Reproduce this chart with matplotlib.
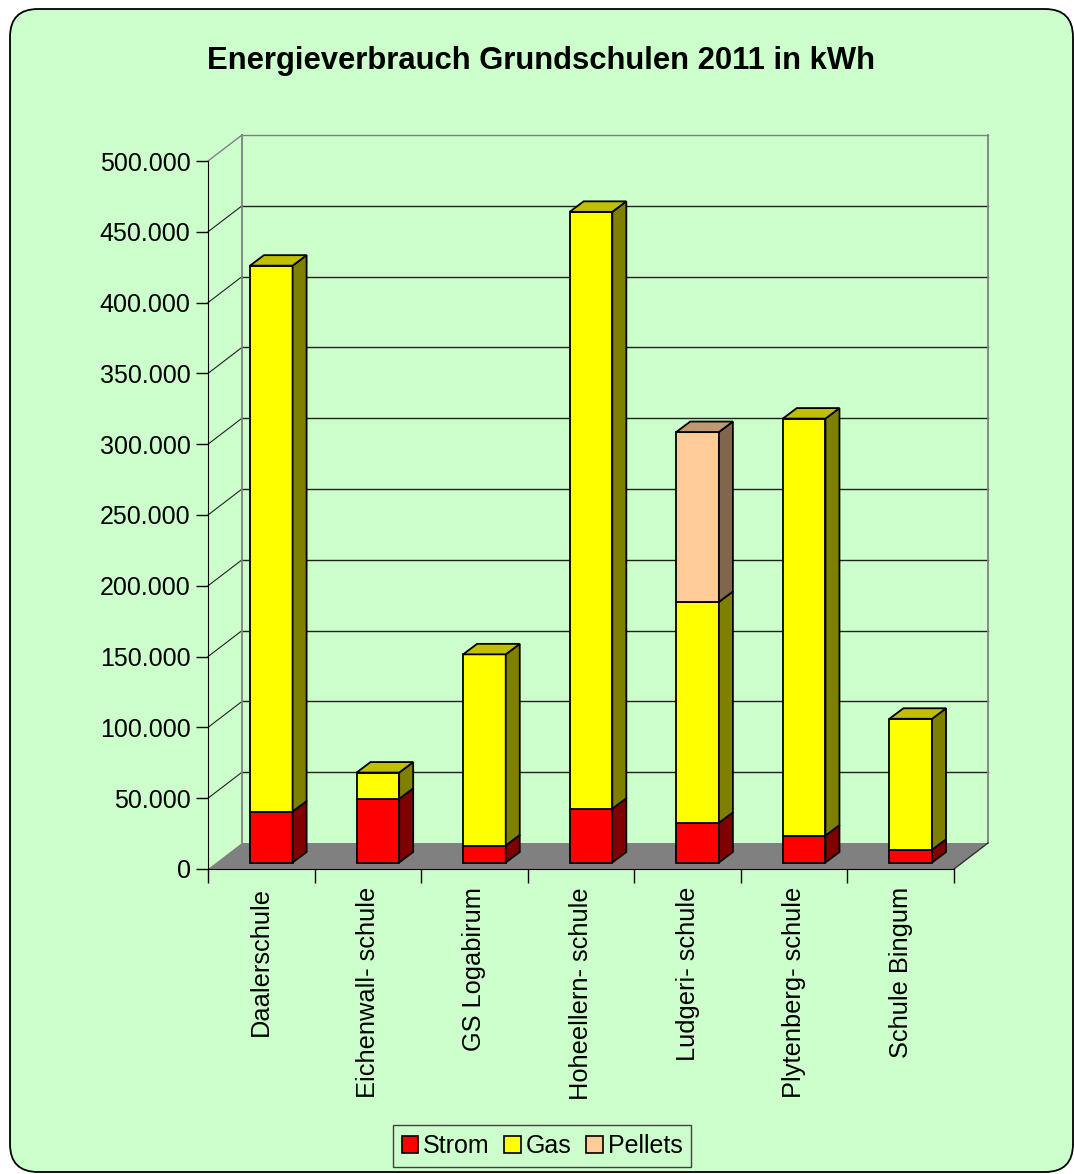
import numpy as np
import matplotlib
matplotlib.use("Agg")
import matplotlib.pyplot as plt
from matplotlib.patches import Polygon, Rectangle, FancyBboxPatch, Patch
from matplotlib.transforms import IdentityTransform
from matplotlib.ticker import FuncFormatter

plt.rcParams['font.family'] = ['Liberation Sans', 'DejaVu Sans']

# kWh per school, 2011
schulen = ["Daalerschule", "Eichenwall- schule", "GS Logabirum", "Hoheellern- schule",
           "Ludgeri- schule", "Plytenberg- schule", "Schule Bingum"]
strom   = [36000, 45000, 12000, 38000, 28000, 19000, 9000]
gas     = [385500, 18500, 135000, 421500, 156000, 294500, 92500]
pellets = [0, 0, 0, 0, 120000, 0, 0]

serien = ["Strom", "Gas", "Pellets"]
# front, side, top colours per series
farben = {
    "Strom":   ("#FF0000", "#800000", "#C00000"),
    "Gas":     ("#FFFF00", "#808000", "#C0C000"),
    "Pellets": ("#FFCC99", "#80664D", "#C09973"),
}

BG = "#CCFFCC"
W, H = 1074, 1174
fig = plt.figure(figsize=(W / 100, H / 100), dpi=100)
fig.patch.set_facecolor("white")

# rounded chart area
rahmen = FancyBboxPatch((10, 2), 1063, 1163, boxstyle="round,pad=0,rounding_size=28",
                        transform=IdentityTransform(), facecolor=BG, edgecolor="black",
                        lw=1.3, zorder=-5)
fig.patches.append(rahmen)

# plot area (front plane)
ax = fig.add_axes([208 / W, (H - 869) / H, 746 / W, 708 / H])
ax.set_zorder(2)
ax.set_facecolor("none")
n = len(schulen)
ax.set_xlim(0, n)
ax.set_ylim(0, 500000)

# pixel -> data unit conversion for the oblique depth
p0 = ax.transData.transform((0, 0))
p1 = ax.transData.transform((1, 100000))
ux = 1.0 / (p1[0] - p0[0])
uy = 100000.0 / (p1[1] - p0[1])

wall_dx, wall_dy = 34 * ux, 26 * uy      # depth of floor / side wall
bar_ox, bar_oy = 10 * ux, 6.5 * uy       # bar front face position in depth
bar_dx, bar_dy = 14 * ux, 10.5 * uy      # bar depth
breite = 0.4

ticks = np.arange(0, 500001, 50000)

# back wall + left wall lines
for t in ticks[1:]:
    c = "#808080" if t == ticks[-1] else "#202020"
    ax.plot([wall_dx, n + wall_dx], [t + wall_dy, t + wall_dy], color=c, lw=1, clip_on=False, zorder=1)
    ax.plot([0, wall_dx], [t, t + wall_dy], color=c, lw=1 if t == ticks[-1] else 0.8,
            clip_on=False, zorder=1)
ax.plot([wall_dx, wall_dx], [wall_dy, ticks[-1] + wall_dy], color="#808080", lw=1.3, clip_on=False, zorder=1)
ax.plot([n + wall_dx, n + wall_dx], [wall_dy, ticks[-1] + wall_dy], color="#808080", lw=1.3,
        clip_on=False, zorder=1)

# floor
boden = Polygon([(0, 0), (n, 0), (n + wall_dx, wall_dy), (wall_dx, wall_dy)],
                closed=True, facecolor="#808080", edgecolor="none", clip_on=False, zorder=2)
ax.add_patch(boden)
ax.plot([n, n + wall_dx], [0, wall_dy], color="#303030", lw=1, clip_on=False, zorder=2)

# stacked 3d bars
werte = {"Strom": strom, "Gas": gas, "Pellets": pellets}
for i in range(n):
    x0 = i + 0.3 + bar_ox
    basis = bar_oy
    segmente = [(s, werte[s][i]) for s in serien if werte[s][i] > 0]
    for k, (s, v) in enumerate(segmente):
        front, side, top = farben[s]
        y0, y1 = basis, basis + v
        ax.add_patch(Rectangle((x0, y0), breite, v, facecolor=front, edgecolor="black",
                               lw=1.3, clip_on=False, zorder=3))
        ax.add_patch(Polygon([(x0 + breite, y0), (x0 + breite, y1),
                              (x0 + breite + bar_dx, y1 + bar_dy), (x0 + breite + bar_dx, y0 + bar_dy)],
                             closed=True, facecolor=side, edgecolor="black", lw=1.3,
                             clip_on=False, zorder=3))
        if k == len(segmente) - 1:
            ax.add_patch(Polygon([(x0, y1), (x0 + breite, y1),
                                  (x0 + breite + bar_dx, y1 + bar_dy), (x0 + bar_dx, y1 + bar_dy)],
                                 closed=True, facecolor=top, edgecolor="black", lw=1.3,
                                 clip_on=False, zorder=3))
        basis = y1

# axes
for sp in ["top", "right"]:
    ax.spines[sp].set_visible(False)
ax.spines["left"].set_color("black")
ax.spines["bottom"].set_color("black")
ax.spines["left"].set_zorder(4)
ax.spines["bottom"].set_zorder(4)

ax.set_yticks(ticks)
ax.yaxis.set_major_formatter(FuncFormatter(lambda v, p: f"{v:,.0f}".replace(",", ".")))
ax.tick_params(axis="y", length=8.6, width=1, pad=4, labelsize=18, colors="black")

ax.set_xticks(np.arange(0, n + 1))
ax.set_xticklabels([])
ax.set_xticks(np.arange(n) + 0.5, minor=True)
ax.set_xticklabels(schulen, minor=True, rotation=90, va="top", ha="center")
ax.tick_params(axis="x", which="major", length=10, width=1, colors="black")
ax.tick_params(axis="x", which="minor", length=0, pad=13, labelsize=18.3)

fig.text(541 / W, 1 - 61 / H, "Energieverbrauch Grundschulen 2011 in kWh",
         ha="center", va="center", fontsize=22.3, fontweight="bold")

handles = [Patch(facecolor=farben[s][0], edgecolor="black", lw=1.2) for s in serien]
leg = fig.legend(handles, serien, loc="center", bbox_to_anchor=(542 / W, 1 - 1146 / H), ncol=3,
                 fontsize=18, frameon=True, fancybox=False, edgecolor="#404040",
                 facecolor=BG, framealpha=1, handlelength=0.65, handleheight=0.65,
                 handletextpad=0.2, columnspacing=0.6, borderpad=0.35, borderaxespad=0)
leg.get_frame().set_linewidth(1)

fig.savefig("out.png", dpi=100)
